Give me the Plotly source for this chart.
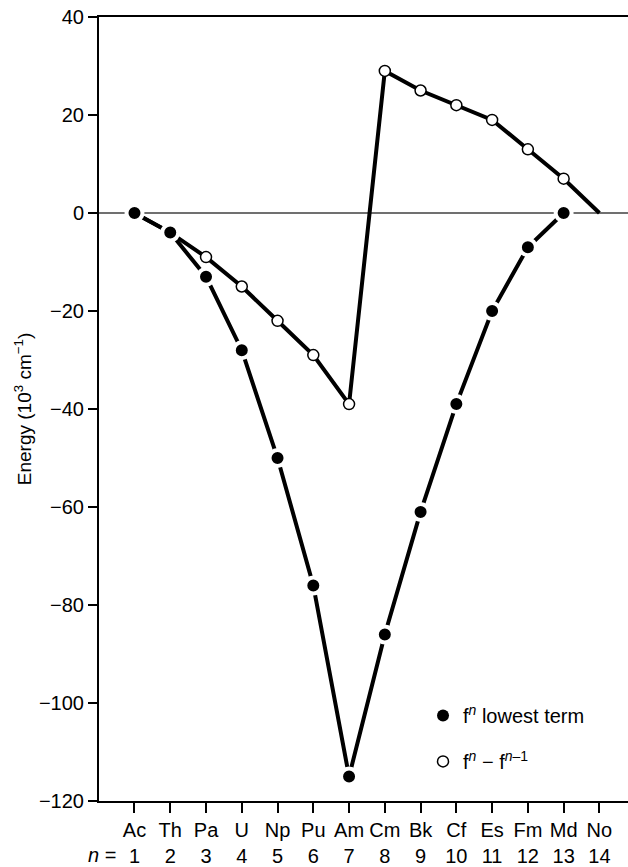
import plotly.graph_objects as go

elements = ["Ac", "Th", "Pa", "U", "Np", "Pu", "Am", "Cm", "Bk", "Cf", "Es", "Fm", "Md", "No"]
n_vals = list(range(1, 15))
# f^n lowest term (filled circles), Ac..Md
lowest_term = [0, -4, -13, -28, -50, -76, -115, -86, -61, -39, -20, -7, 0]
# f^n - f^(n-1) (open circles), Ac..No
diff_term = [0, -4, -9, -15, -22, -29, -39, 29, 25, 22, 19, 13, 7, 0]

tick_text = [f"{e}<br>{n}" for e, n in zip(elements, n_vals)]
FONT = "Liberation Sans, Arial, Helvetica, sans-serif"

fig = go.Figure()

# open-circle series line (all points)
fig.add_trace(go.Scatter(
    x=n_vals, y=diff_term, mode="lines",
    line=dict(color="black", width=4), showlegend=False, hoverinfo="skip"))
# open-circle markers (no marker at No)
fig.add_trace(go.Scatter(
    x=n_vals[:len(diff_term) - 1], y=diff_term[:-1], mode="markers",
    marker=dict(size=11, color="white", line=dict(color="black", width=1.5)),
    showlegend=False))
# filled series
fig.add_trace(go.Scatter(
    x=n_vals[:len(lowest_term)], y=lowest_term, mode="lines+markers",
    line=dict(color="black", width=4),
    marker=dict(size=16, color="black", line=dict(color="white", width=4)),
    showlegend=False))

# legend entries
fig.add_trace(go.Scatter(
    x=[None], y=[None], mode="markers", legendgroup="a",
    marker=dict(size=12, color="black"),
    name="f<sup><i>n</i></sup> lowest term"))
fig.add_trace(go.Scatter(
    x=[None], y=[None], mode="markers", legendgroup="b",
    marker=dict(size=11, color="white", line=dict(color="black", width=1.5)),
    name="f<sup><i>n</i></sup> − f<sup><i>n</i>–1</sup>"))

fig.add_annotation(
    text="<i>n</i> =", xref="paper", yref="paper",
    x=0.036, y=-0.069, xanchor="right", yanchor="middle",
    showarrow=False, font=dict(size=20, color="black", family=FONT))

fig.update_layout(
    width=628, height=867,
    margin=dict(l=99, r=0, t=17, b=62),
    paper_bgcolor="white", plot_bgcolor="white",
    font=dict(family=FONT, size=20, color="black"),
    showlegend=True,
    legend=dict(x=0.6125, y=0.134, xanchor="left", yanchor="top",
                bgcolor="rgba(0,0,0,0)", tracegroupgap=17,
                font=dict(size=20, family=FONT, color="black")),
    xaxis=dict(
        range=[0.0075, 14.8], tickmode="array", tickvals=n_vals, ticktext=tick_text,
        showgrid=False, zeroline=False,
        showline=True, linecolor="black", linewidth=2, mirror=True,
        ticks="outside", ticklen=10, tickwidth=1.5, tickcolor="black",
        tickfont=dict(size=20, family=FONT, color="black")),
    yaxis=dict(
        range=[-120, 40], tickmode="array", tickvals=[-120, -100, -80, -60, -40, -20, 0, 20, 40],
        showgrid=False,
        zeroline=True, zerolinecolor="#707070", zerolinewidth=1.5,
        showline=True, linecolor="black", linewidth=2,
        ticks="outside", ticklen=9, tickwidth=1.5, tickcolor="black",
        tickfont=dict(size=20, family=FONT, color="black"),
        title=dict(text="Energy (10<sup>3</sup> cm<sup>−1</sup>)", standoff=2,
                   font=dict(size=19, family=FONT, color="black"))),
)

fig.write_html("out.html")
